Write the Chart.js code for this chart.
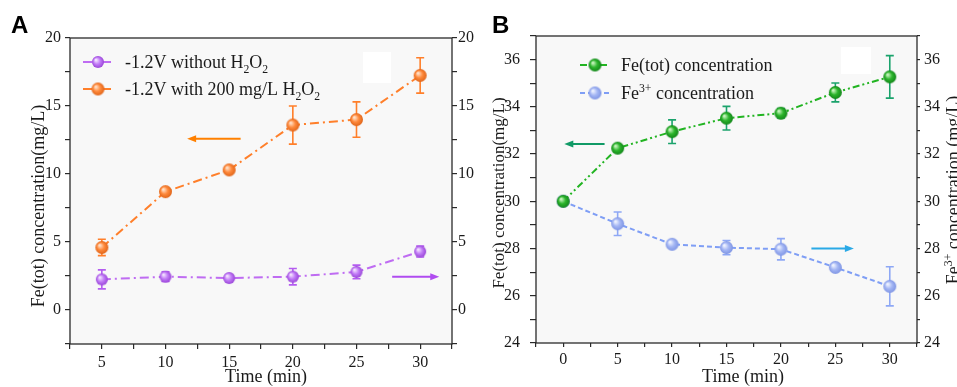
<!DOCTYPE html>
<html>
<head>
<meta charset="utf-8">
<script src="https://cdn.jsdelivr.net/npm/chart.js@4.4.1/dist/chart.umd.min.js"></script>
<style>
html, body { margin: 0; padding: 0; background: #fff; }
#wrap { position: relative; width: 957px; height: 387px; overflow: hidden; }
#chartA { position: absolute; left: 0; top: 0; }
#chartB { position: absolute; left: 478px; top: 0; }
</style>
</head>
<body>
<div id="wrap">
  <canvas id="chartA" width="478" height="387"></canvas>
  <canvas id="chartB" width="479" height="387"></canvas>
</div>
<script>
// ---- panel A data ----
var timeA = [5, 10, 15, 20, 25, 30];
var withoutH2O2 = [2.25, 2.45, 2.35, 2.45, 2.8, 4.3];
var withoutH2O2Err = [0.7, 0.35, 0.15, 0.6, 0.5, 0.4];
var withH2O2 = [4.6, 8.7, 10.3, 13.6, 14.0, 17.25];
var withH2O2Err = [0.6, 0.15, 0.1, 1.4, 1.3, 1.3];

// ---- panel B data ----
var timeB = [0, 5, 10, 15, 20, 25, 30];
var feTot = [30, 32.25, 32.95, 33.52, 33.73, 34.61, 35.27];
var feTotErr = [0, 0.1, 0.5, 0.5, 0.2, 0.4, 0.9];
var fe3 = [30, 29.05, 28.18, 28.04, 27.97, 27.2, 26.4];
var fe3Err = [0, 0.5, 0.1, 0.3, 0.45, 0.12, 0.83];

var serif = "'Liberation Serif', 'Times New Roman', serif";

function pts(xs, ys) {
  return xs.map(function (x, i) { return { x: x, y: ys[i] }; });
}

// shaded ball used as point marker
function ball(base, hi, lo, r) {
  var c = document.createElement('canvas');
  var s = r * 2 + 2;
  c.width = s; c.height = s;
  var g = c.getContext('2d');
  var grd = g.createRadialGradient(s / 2 - r * 0.35, s / 2 - r * 0.35, r * 0.1, s / 2, s / 2, r);
  grd.addColorStop(0, hi);
  grd.addColorStop(0.5, base);
  grd.addColorStop(1, lo);
  g.fillStyle = grd;
  g.beginPath(); g.arc(s / 2, s / 2, r, 0, Math.PI * 2); g.fill();
  return c;
}

// text with sub / superscripts
function richWidth(ctx, parts, size) {
  var w = 0;
  parts.forEach(function (p) {
    var fs = (p.sub || p.sup) ? size * 0.65 : size;
    ctx.font = fs + 'px ' + serif;
    w += ctx.measureText(p.t).width;
  });
  return w;
}
function drawRich(ctx, parts, x, y, size, color) {
  ctx.fillStyle = color;
  ctx.textBaseline = 'alphabetic';
  ctx.textAlign = 'left';
  parts.forEach(function (p) {
    var fs = (p.sub || p.sup) ? size * 0.65 : size;
    var dy = p.sub ? size * 0.25 : (p.sup ? -size * 0.4 : 0);
    ctx.font = fs + 'px ' + serif;
    ctx.fillText(p.t, x, y + dy);
    x += ctx.measureText(p.t).width;
  });
}
function drawVertical(ctx, parts, cx, cy, size) {
  ctx.save();
  ctx.translate(cx, cy);
  ctx.rotate(-Math.PI / 2);
  var w = richWidth(ctx, parts, size);
  drawRich(ctx, parts, -w / 2, size * 0.33, size, '#1a1a1a');
  ctx.restore();
}

function makeDeco(cfg) {
  return {
    id: 'deco',
    beforeDraw: function (chart) {
      var ctx = chart.ctx, a = chart.chartArea;
      ctx.save();
      ctx.fillStyle = '#f8f8f8';
      ctx.fillRect(a.left, a.top, a.right - a.left, a.bottom - a.top);
      ctx.fillStyle = '#ffffff';
      cfg.boxes.forEach(function (b) { ctx.fillRect(b[0], b[1], b[2], b[3]); });
      ctx.restore();
    },
    beforeDatasetsDraw: function (chart) {
      // error bars
      var ctx = chart.ctx;
      ctx.save();
      chart.data.datasets.forEach(function (ds, i) {
        var meta = chart.getDatasetMeta(i);
        var ys = chart.scales[ds.yAxisID];
        ctx.strokeStyle = ds.errColor;
        ctx.lineWidth = 1.6;
        ctx.setLineDash([]);
        meta.data.forEach(function (pt, j) {
          var e = ds.errors[j];
          if (!e) return;
          var v = ds.data[j].y;
          var t = ys.getPixelForValue(v + e), b = ys.getPixelForValue(v - e);
          ctx.beginPath();
          ctx.moveTo(pt.x, t); ctx.lineTo(pt.x, b);
          ctx.moveTo(pt.x - 4, t); ctx.lineTo(pt.x + 4, t);
          ctx.moveTo(pt.x - 4, b); ctx.lineTo(pt.x + 4, b);
          ctx.stroke();
        });
      });
      ctx.restore();
    },
    afterDraw: function (chart) {
      var ctx = chart.ctx, a = chart.chartArea;
      ctx.save();
      // frame
      ctx.strokeStyle = '#2a2a2a';
      ctx.lineWidth = 1.3;
      ctx.strokeRect(a.left, a.top, a.right - a.left, a.bottom - a.top);

      // arrows, placed in data units
      cfg.arrows.forEach(function (ar) {
        var ys = chart.scales[ar.axis], xs = chart.scales.x;
        var x0 = xs.getPixelForValue(ar.from), x1 = xs.getPixelForValue(ar.to);
        var y = ys.getPixelForValue(ar.y);
        var dir = x1 > x0 ? 1 : -1;
        ctx.strokeStyle = ar.color; ctx.fillStyle = ar.color;
        ctx.lineWidth = 2;
        ctx.beginPath(); ctx.moveTo(x0, y); ctx.lineTo(x1 - dir * 6, y); ctx.stroke();
        ctx.beginPath();
        ctx.moveTo(x1, y); ctx.lineTo(x1 - dir * 9, y - 3.5); ctx.lineTo(x1 - dir * 9, y + 3.5);
        ctx.closePath(); ctx.fill();
      });

      // legend
      cfg.legend.forEach(function (lg) {
        var ds = chart.data.datasets[lg.ds];
        ctx.strokeStyle = ds.borderColor;
        ctx.lineWidth = 2;
        ctx.setLineDash(ds.borderDash);
        ctx.beginPath(); ctx.moveTo(lg.x - 15, lg.y); ctx.lineTo(lg.x + 15, lg.y); ctx.stroke();
        ctx.setLineDash([]);
        var img = ds.pointStyle;
        ctx.drawImage(img, lg.x - img.width / 2, lg.y - img.height / 2);
        drawRich(ctx, lg.text, lg.tx, lg.y + 6, 18, '#1a1a1a');
      });

      // panel letter
      ctx.fillStyle = '#000';
      ctx.font = 'bold 24px "Liberation Sans", Arial, sans-serif';
      ctx.textBaseline = 'alphabetic';
      ctx.textAlign = 'left';
      ctx.fillText(cfg.letter[0], cfg.letter[1], cfg.letter[2]);

      // axis titles
      ctx.font = '18px ' + serif;
      ctx.fillStyle = '#1a1a1a';
      ctx.textAlign = 'center';
      ctx.textBaseline = 'middle';
      ctx.fillText('Time (min)', cfg.xTitle[0], cfg.xTitle[1]);
      cfg.yTitles.forEach(function (t) { drawVertical(ctx, t.text, t.x, t.y, t.size); });
      ctx.restore();
    }
  };
}

function axisY(pos, min, max, step, labelFn, width, pad, tl) {
  return {
    type: 'linear', position: pos, min: min, max: max,
    ticks: { stepSize: step, autoSkip: false, callback: labelFn, padding: pad,
             font: { family: serif, size: 16 }, color: '#1a1a1a' },
    grid: { drawOnChartArea: false, tickLength: tl, color: '#2a2a2a', lineWidth: 1.2 },
    border: { display: false },
    afterFit: function (s) { s.width = width; }
  };
}
function axisX(min, max, labelFn, height, pad, tl) {
  return {
    type: 'linear', position: 'bottom', min: min, max: max,
    ticks: { stepSize: 2.5, autoSkip: false, maxRotation: 0, callback: labelFn, padding: pad,
             font: { family: serif, size: 16 }, color: '#1a1a1a' },
    grid: { drawOnChartArea: false, tickLength: tl, color: '#2a2a2a', lineWidth: 1.2 },
    border: { display: false },
    afterFit: function (s) { s.height = height; }
  };
}
function every(n) { return function (v) { return (Math.abs(v % n) < 1e-9) ? v : ''; }; }
function evenUpTo36(v) { return (v % 2 === 0 && v <= 36) ? v : ''; }

function series(label, xs, ys, errs, axis, color, errColor, dash, img) {
  return {
    label: label, data: pts(xs, ys), errors: errs, yAxisID: axis,
    borderColor: color, borderWidth: 2, borderDash: dash, errColor: errColor,
    pointStyle: img, pointRadius: 6, fill: false, tension: 0
  };
}

var ballPurple = ball('#c27cf7', '#f3e2ff', '#9a46d8', 6);
var ballOrange = ball('#ff8a3c', '#ffe0c8', '#e0651a', 6.5);
var ballGreen = ball('#2cb52c', '#c9f5c0', '#13861a', 6.5);
var ballBlue = ball('#a4b6f4', '#eef2ff', '#7f95e4', 6.5);

var chartA = new Chart(document.getElementById('chartA'), {
  type: 'line',
  data: { datasets: [
    series('-1.2V without H2O2', timeA, withoutH2O2, withoutH2O2Err, 'y2', '#bf6cf2', '#b45cf0', [9, 4, 2, 4], ballPurple),
    series('-1.2V with 200 mg/L H2O2', timeA, withH2O2, withH2O2Err, 'y', '#ff7f2a', '#ff7f2a', [9, 4, 2, 4], ballOrange)
  ] },
  options: {
    responsive: false, animation: false,
    layout: { padding: { top: 38, left: 0, right: 0, bottom: 0 } },
    plugins: { legend: { display: false }, tooltip: { enabled: false } },
    scales: {
      x: axisX(2.5, 32.5, every(5), 43, 4, 5),
      y: axisY('left', -2.5, 20, 2.5, every(5), 70, 4, 5),
      y2: axisY('right', -2.5, 20, 2.5, every(5), 26, 1, 5)
    }
  },
  plugins: [makeDeco({
    letter: ['A', 11, 33],
    boxes: [[363, 52, 28, 31]],
    arrows: [
      { from: 15.9, to: 11.7, y: 12.6, axis: 'y', color: '#ff8000' },
      { from: 27.8, to: 31.5, y: 2.45, axis: 'y2', color: '#b04cf0' }
    ],
    legend: [
      { ds: 0, x: 98, y: 62, tx: 125, text: [{ t: '-1.2V without H' }, { t: '2', sub: true }, { t: 'O' }, { t: '2', sub: true }] },
      { ds: 1, x: 98, y: 89, tx: 125, text: [{ t: '-1.2V with 200 mg/L H' }, { t: '2', sub: true }, { t: 'O' }, { t: '2', sub: true }] }
    ],
    xTitle: [266, 377],
    yTitles: [{ x: 38, y: 206, size: 18, text: [{ t: 'Fe(tot) concentration(mg/L)' }] }]
  })]
});

var chartB = new Chart(document.getElementById('chartB'), {
  type: 'line',
  data: { datasets: [
    series('Fe(tot) concentration', timeB, feTot, feTotErr, 'y', '#22b422', '#1ba36c', [7, 3, 2, 3, 2, 3], ballGreen),
    series('Fe3+ concentration', timeB, fe3, fe3Err, 'y2', '#7f9ef5', '#8ea8f5', [5, 3], ballBlue)
  ] },
  options: {
    responsive: false, animation: false,
    layout: { padding: { top: 36, left: 0, right: 0, bottom: 0 } },
    plugins: { legend: { display: false }, tooltip: { enabled: false } },
    scales: {
      x: axisX(-2.5, 32.5, every(5), 44, 3, 4),
      y: axisY('left', 24, 37, 1, evenUpTo36, 58, 10, 6),
      y2: axisY('right', 24, 37, 1, evenUpTo36, 40, 4, 3)
    }
  },
  plugins: [makeDeco({
    letter: ['B', 14, 33],
    boxes: [[363, 47, 30, 27]],
    arrows: [
      { from: 3.8, to: 0.1, y: 32.43, axis: 'y', color: '#119a66' },
      { from: 22.8, to: 26.7, y: 28.0, axis: 'y2', color: '#2aa9e6' }
    ],
    legend: [
      { ds: 0, x: 117, y: 65, tx: 143, text: [{ t: 'Fe(tot) concentration' }] },
      { ds: 1, x: 117, y: 93, tx: 143, text: [{ t: 'Fe' }, { t: '3+', sup: true }, { t: ' concentration' }] }
    ],
    xTitle: [265, 377],
    yTitles: [
      { x: 20, y: 193, size: 17, text: [{ t: 'Fe(tot) concentration(mg/L)' }] },
      { x: 475, y: 190, size: 18, text: [{ t: 'Fe' }, { t: '3+', sup: true }, { t: ' concentration (mg/L)' }] }
    ]
  })]
});
</script>
</body>
</html>
